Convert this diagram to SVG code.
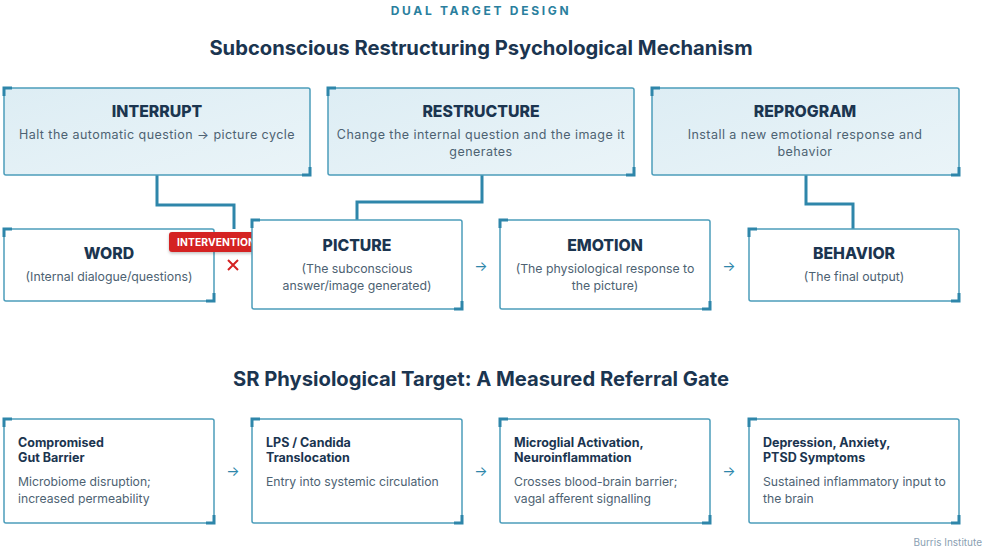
<svg xmlns="http://www.w3.org/2000/svg" width="986" height="549" viewBox="0 0 986 549">
<defs>
<linearGradient id="tg" x1="0" y1="0" x2="1" y2="1">
<stop offset="0" stop-color="#ddedf4"/>
<stop offset="1" stop-color="#eaf4f8"/>
</linearGradient>
<filter id="sh" x="-10%" y="-20%" width="120%" height="160%">
<feDropShadow dx="0" dy="1.5" stdDeviation="1.5" flood-color="#000" flood-opacity="0.25"/>
</filter>
<style>
text{font-family:Inter,"Noto Sans","Liberation Sans",sans-serif}
.box{fill:#fff;stroke:#4c9dbb;stroke-width:1.5}
.tbox{fill:url(#tg);stroke:#4c9dbb;stroke-width:1.5}
.acc{fill:none;stroke:#2e86aa;stroke-width:3}
.conn{fill:none;stroke:#2e86aa;stroke-width:3}
.h{font-weight:800;fill:#1b3550;text-anchor:middle;font-size:15.8px}
.hs{font-size:12.5px;fill:#4d6272;text-anchor:middle;letter-spacing:0.45px}
.s{font-size:12.3px;fill:#4d6272;text-anchor:middle}
.bh{font-weight:700;fill:#1b3550;font-size:12.5px}
.bs{font-size:12.2px;fill:#4d6272}
.arr{font-size:14px;fill:#2e86aa;text-anchor:middle}
</style>
</defs>
<rect width="986" height="549" fill="#fff"/>
<text x="481" y="15" text-anchor="middle" font-size="12" font-weight="700" fill="#2a7f9e" letter-spacing="2.7">DUAL TARGET DESIGN</text>
<text x="481" y="55" text-anchor="middle" font-size="20.2" font-weight="700" fill="#1b3550">Subconscious Restructuring Psychological Mechanism</text>
<text x="481" y="386" text-anchor="middle" font-size="20.2" font-weight="700" fill="#1b3550">SR Physiological Target: A Measured Referral Gate</text>

<g id="connectors">
<path class="conn" d="M157 175 V205 H234 V229"/>
<path class="conn" d="M482 175 V202 H357 V220"/>
<path class="conn" d="M806 175 V204 H853 V229"/>
<text class="arr" x="481" y="271">→</text>
<text class="arr" x="729" y="271">→</text>
<text class="arr" x="233" y="476">→</text>
<text class="arr" x="481" y="476">→</text>
<text class="arr" x="729" y="476">→</text>
</g>

<g id="interrupt">
<rect class="tbox" x="4" y="88" width="306" height="87" rx="2"/>
<path class="acc" d="M4 96 V88 H12 M302 175 H310 V167"/>
<text class="h" x="157" y="117">INTERRUPT</text>
<text class="hs" x="157" y="139">Halt the automatic question → picture cycle</text>
</g>
<g id="restructure">
<rect class="tbox" x="328" y="88" width="306" height="87" rx="2"/>
<path class="acc" d="M328 96 V88 H336 M626 175 H634 V167"/>
<text class="h" x="481" y="117">RESTRUCTURE</text>
<text class="hs" x="481" y="139">Change the internal question and the image it</text>
<text class="hs" x="481" y="156">generates</text>
</g>
<g id="reprogram">
<rect class="tbox" x="652" y="88" width="307" height="87" rx="2"/>
<path class="acc" d="M652 96 V88 H660 M951 175 H959 V167"/>
<text class="h" x="805" y="117">REPROGRAM</text>
<text class="hs" x="805" y="139">Install a new emotional response and</text>
<text class="hs" x="805" y="156">behavior</text>
</g>

<g id="word">
<rect class="box" x="4" y="229" width="210" height="72" rx="2"/>
<path class="acc" d="M4 237 V229 H12 M206 301 H214 V293"/>
<text class="h" x="109" y="259">WORD</text>
<text class="s" x="109" y="281">(Internal dialogue/questions)</text>
</g>
<g id="intervention">
<rect x="169" y="232" width="90" height="20" rx="3" fill="#d42222" filter="url(#sh)"/>
<text x="177" y="246" font-size="10.3" font-weight="700" fill="#fff" letter-spacing="0.1">INTERVENTION</text>
<path d="M228 260 L238 270 M238 260 L228 270" stroke="#d42222" stroke-width="2"/>
</g>
<g id="picture">
<rect class="box" x="252" y="220" width="210" height="89" rx="2"/>
<path class="acc" d="M252 228 V220 H260 M454 309 H462 V301"/>
<text class="h" x="357" y="251">PICTURE</text>
<text class="s" x="357" y="273">(The subconscious</text>
<text class="s" x="357" y="290">answer/image generated)</text>
</g>
<g id="emotion">
<rect class="box" x="500" y="220" width="210" height="89" rx="2"/>
<path class="acc" d="M500 228 V220 H508 M702 309 H710 V301"/>
<text class="h" x="605" y="251">EMOTION</text>
<text class="s" x="605" y="273">(The physiological response to</text>
<text class="s" x="605" y="290">the picture)</text>
</g>
<g id="behavior">
<rect class="box" x="749" y="229" width="210" height="72" rx="2"/>
<path class="acc" d="M749 237 V229 H757 M951 301 H959 V293"/>
<text class="h" x="854" y="259">BEHAVIOR</text>
<text class="s" x="854" y="281">(The final output)</text>
</g>

<g id="gut">
<rect class="box" x="4" y="419" width="210" height="104" rx="2"/>
<path class="acc" d="M4 427 V419 H12 M206 523 H214 V515"/>
<text class="bh" x="18" y="447">Compromised</text>
<text class="bh" x="18" y="462">Gut Barrier</text>
<text class="bs" x="18" y="486">Microbiome disruption;</text>
<text class="bs" x="18" y="503">increased permeability</text>
</g>
<g id="lps">
<rect class="box" x="252" y="419" width="210" height="104" rx="2"/>
<path class="acc" d="M252 427 V419 H260 M454 523 H462 V515"/>
<text class="bh" x="266" y="447">LPS / Candida</text>
<text class="bh" x="266" y="462">Translocation</text>
<text class="bs" x="266" y="486">Entry into systemic circulation</text>
</g>
<g id="microglia">
<rect class="box" x="500" y="419" width="210" height="104" rx="2"/>
<path class="acc" d="M500 427 V419 H508 M702 523 H710 V515"/>
<text class="bh" x="514" y="447">Microglial Activation,</text>
<text class="bh" x="514" y="462">Neuroinflammation</text>
<text class="bs" x="514" y="486">Crosses blood-brain barrier;</text>
<text class="bs" x="514" y="503">vagal afferent signalling</text>
</g>
<g id="symptoms">
<rect class="box" x="749" y="419" width="210" height="104" rx="2"/>
<path class="acc" d="M749 427 V419 H757 M951 523 H959 V515"/>
<text class="bh" x="763" y="447">Depression, Anxiety,</text>
<text class="bh" x="763" y="462">PTSD Symptoms</text>
<text class="bs" x="763" y="486">Sustained inflammatory input to</text>
<text class="bs" x="763" y="503">the brain</text>
</g>
<text x="982" y="546" text-anchor="end" font-size="10" fill="#8aa0b2">Burris Institute</text>
</svg>
